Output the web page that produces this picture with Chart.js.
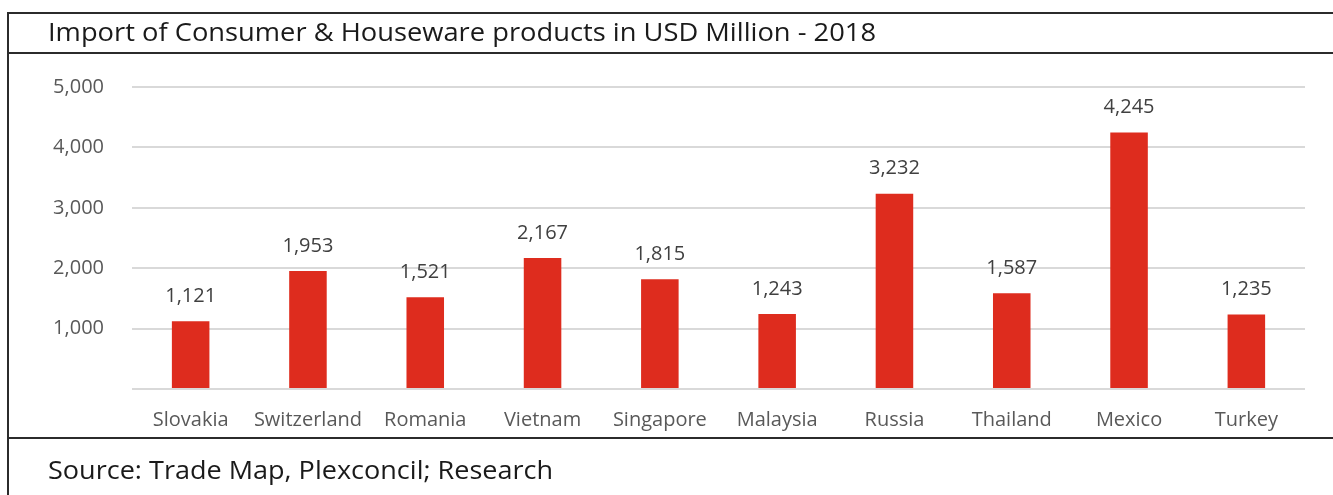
<!DOCTYPE html>
<html>
<head>
<meta charset="utf-8">
<script src="https://cdn.jsdelivr.net/npm/chart.js@4/dist/chart.umd.min.js"></script>
<style>
  body { margin: 0; background: #fff; font-family: "Open Sans", sans-serif; }
  #wrap { position: relative; width: 1333px; height: 495px; overflow: hidden; }
  #chart { position: absolute; left: 0; top: 0; }
  .line { position: absolute; background: #2b2b2b; }
  .txt { position: absolute; font-size: 26px; color: #1a1a1a; white-space: nowrap; transform-origin: left center; }
</style>
</head>
<body>
<div id="wrap">
  <canvas id="chart" width="1333" height="495"></canvas>
  <div class="line" style="left:8px; top:12px; width:1325px; height:2px;"></div>
  <div class="line" style="left:8px; top:52px; width:1325px; height:2px;"></div>
  <div class="line" style="left:8px; top:437px; width:1325px; height:2px;"></div>
  <div class="line" style="left:7px; top:12px; width:2px; height:483px;"></div>
  <div class="txt" style="left:48px; top:13px; transform: scaleX(1.05);">Import of Consumer &amp; Houseware products in USD Million - 2018</div>
  <div class="txt" style="left:48px; top:451px; transform: scaleX(1.04);">Source: Trade Map, Plexconcil; Research</div>
</div>
<script>
// Chart data
const countries = ['Slovakia', 'Switzerland', 'Romania', 'Vietnam', 'Singapore', 'Malaysia', 'Russia', 'Thailand', 'Mexico', 'Turkey'];
const imports = [1121, 1953, 1521, 2167, 1815, 1243, 3232, 1587, 4245, 1235];
const yTicks = [0, 1000, 2000, 3000, 4000, 5000];

function fmt(v) {
    return v.toLocaleString('en-US');
}

// draws the value above each bar
const valueLabels = {
    id: 'valueLabels',
    afterDatasetsDraw(chart) {
        const ctx = chart.ctx;
        const meta = chart.getDatasetMeta(0);
        ctx.save();
        ctx.font = '20px "Open Sans"';
        ctx.fillStyle = '#404040';
        ctx.textAlign = 'center';
        ctx.textBaseline = 'middle';
        meta.data.forEach((bar, i) => {
            ctx.fillText(fmt(imports[i]), bar.x, bar.y - 25);
        });
        ctx.restore();
    }
};

const ctx = document.getElementById('chart').getContext('2d');
const myChart = new Chart(ctx, {
    type: 'bar',
    data: {
        labels: countries,
        datasets: [{
            data: imports,
            backgroundColor: '#de2c1e',
            barPercentage: 0.32,
            categoryPercentage: 1
        }]
    },
    options: {
        responsive: false,
        animation: false,
        layout: { padding: { left: 0, right: 28, top: 87, bottom: 56 } },
        plugins: {
            legend: { display: false },
            tooltip: { enabled: false }
        },
        scales: {
            x: {
                grid: { display: false },
                border: { display: false },
                ticks: { color: '#595959', font: { family: 'Open Sans', size: 20 }, padding: 11 },
                afterFit: s => { s.height = 50; }
            },
            y: {
                min: 0,
                max: 5000,
                afterBuildTicks: s => { s.ticks = yTicks.map(v => ({ value: v })); },
                grid: { color: '#d9d9d9', lineWidth: 2, drawTicks: false },
                border: { display: false },
                ticks: {
                    color: '#595959',
                    font: { family: 'Open Sans', size: 20 },
                    padding: 28,
                    callback: v => v === 0 ? '' : fmt(v)
                },
                afterFit: s => { s.width = 132; }
            }
        }
    },
    plugins: [valueLabels]
});
</script>
</body>
</html>
